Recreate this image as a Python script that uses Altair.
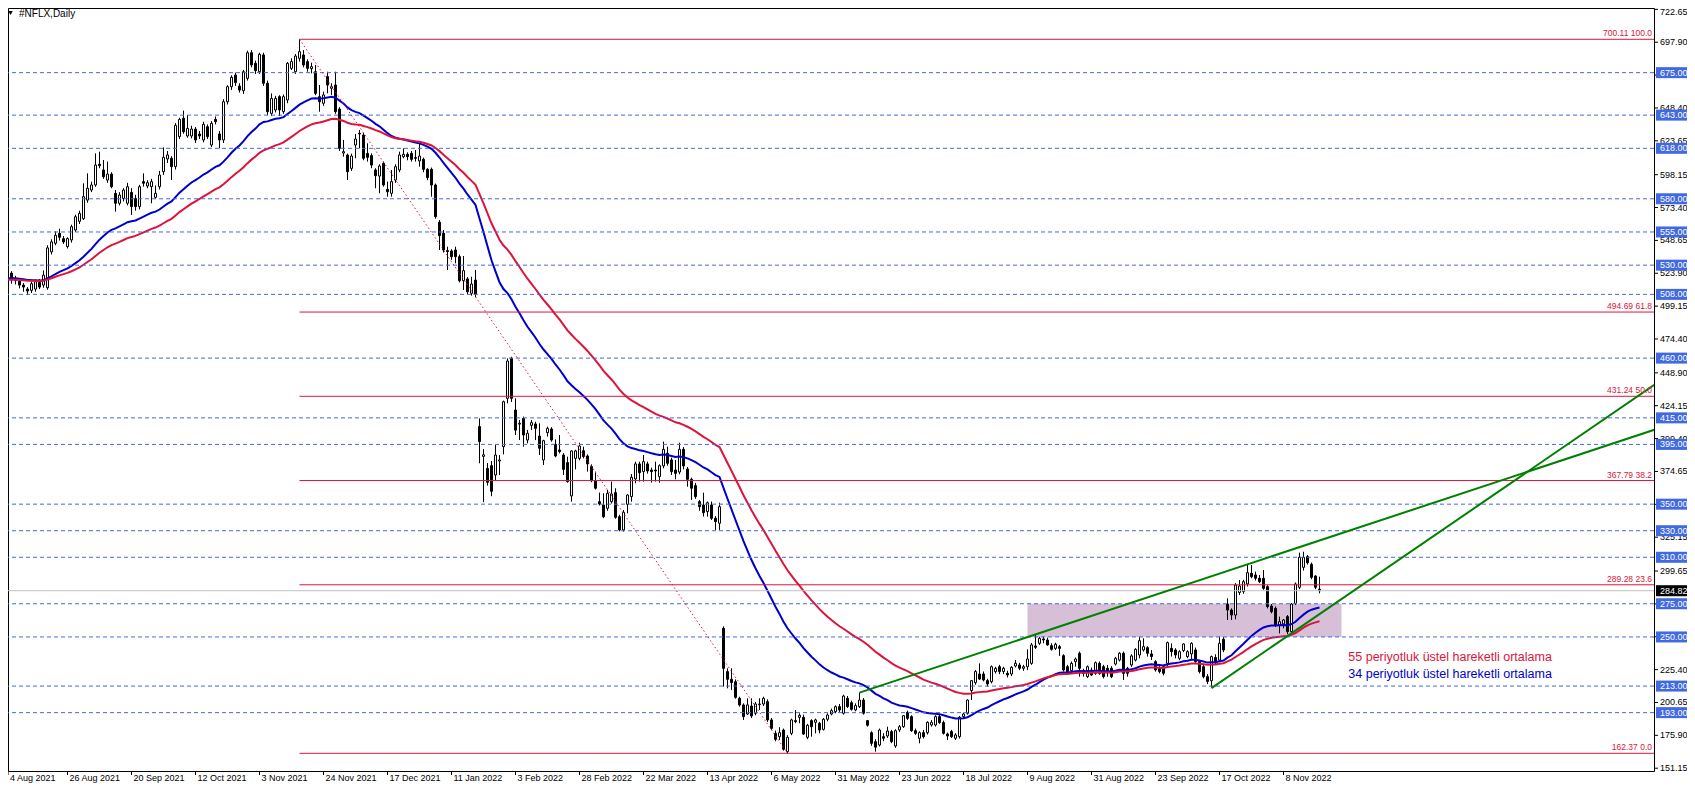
import altair as alt
import pandas as pd

# ---------------- data ----------------
opens = [
    511.5, 519.0, 524.0, 520.0, 518.0, 515.0, 512.0, 511.0, 512.0, 517.0,
    515.0, 513.0, 540.0, 546.5, 554.0, 550.0, 544.0, 549.0, 556.5, 563.0,
    565.0, 579.0, 586.6, 590.4, 606.0, 601.7, 594.1, 598.6, 584.1, 576.6,
    580.3, 576.6, 584.8, 580.3, 574.1, 592.9, 589.6, 589.1, 581.1, 589.1,
    600.4, 610.0, 610.5, 604.2, 626.8, 640.6, 627.3, 627.3, 632.5, 628.8,
    624.3, 634.3, 620.5, 639.8, 628.8, 624.3, 653.1, 664.4, 673.2, 664.9,
    661.4, 670.7, 690.0, 682.0, 675.7, 688.3, 667.0, 644.3, 646.9, 656.9,
    645.6, 654.4, 678.2, 675.7, 685.8, 688.3, 683.3, 678.0, 675.7, 656.9,
    651.9, 672.0, 663.2, 665.7, 647.6, 614.5, 613.0, 602.9, 620.5, 629.3,
    628.0, 614.2, 612.5, 601.7, 597.1, 606.7, 587.1, 584.1, 594.1, 601.7,
    611.7, 613.5, 614.2, 611.0, 608.5, 609.7, 602.2, 602.2, 590.4, 562.3,
    554.0, 541.0, 540.7, 541.4, 536.4, 518.3, 519.6, 508.8, 518.8, 408.4,
    386.0, 376.9, 379.0, 372.0, 382.5, 393.3, 429.7, 459.8, 420.9, 410.3,
    414.6, 398.3, 409.4, 410.4, 401.3, 383.3, 403.9, 406.6, 395.1, 390.8,
    387.0, 381.3, 356.2, 384.5, 384.5, 390.3, 386.3, 378.3, 367.7, 351.9,
    349.4, 346.9, 351.9, 358.7, 340.6, 330.6, 349.9, 355.7, 369.0, 380.3,
    374.5, 380.3, 375.7, 375.7, 370.7, 378.8, 388.3, 383.3, 375.7, 374.2,
    391.3, 376.5, 368.7, 364.0, 351.9, 349.4, 344.4, 349.4, 339.4, 335.6,
    256.5, 223.9, 218.1, 216.3, 203.8, 198.8, 192.0, 198.0, 192.5, 199.0,
    199.5, 201.3, 187.5, 177.4, 174.9, 179.9, 163.6, 177.4, 187.0, 189.5,
    189.5, 174.4, 187.0, 185.7, 185.0, 180.4, 188.0, 192.0, 193.7, 197.5,
    192.5, 203.8, 200.5, 195.0, 197.5, 202.5, 187.0, 177.9, 171.1, 168.6,
    174.9, 175.4, 178.7, 167.9, 180.0, 182.4, 193.2, 190.0, 179.4, 173.7,
    177.9, 177.9, 183.7, 183.7, 190.0, 185.5, 176.9, 178.7, 173.7, 174.9,
    190.0, 192.5, 209.6, 215.6, 222.1, 222.1, 217.1, 216.3, 223.9, 227.6,
    223.9, 222.6, 222.1, 228.1, 228.9, 226.4, 227.6, 230.1, 243.2, 245.2,
    248.5, 247.7, 243.4, 241.4, 242.7, 235.9, 227.6, 224.6, 231.4, 237.7,
    224.6, 220.1, 225.1, 222.6, 230.1, 227.6, 226.4, 226.4, 229.6, 232.6,
    237.7, 226.4, 228.9, 232.6, 236.4, 240.2, 241.9, 237.2, 231.4, 226.4,
    227.6, 230.1, 241.4, 240.2, 233.9, 239.7, 235.2, 237.2, 240.2, 231.4,
    227.6, 220.1, 217.0, 234.5, 232.6, 248.2, 274.8, 270.3, 266.5, 283.5,
    284.1, 289.9, 297.9, 296.7, 294.2, 294.2, 287.9, 273.3, 271.6, 259.0,
    259.8, 265.3, 254.0, 275.3, 287.4, 302.4, 310.5, 304.7, 295.9, 285.9,
]
highs = [
    520.5, 526.0, 525.5, 522.0, 520.0, 516.5, 513.5, 517.5, 519.0, 519.5,
    526.0, 545.0, 549.5, 555.5, 557.5, 552.0, 551.0, 560.5, 568.0, 571.0,
    591.6, 599.2, 592.9, 614.2, 615.5, 609.2, 608.0, 600.0, 586.6, 585.0,
    588.0, 592.0, 588.0, 583.0, 590.5, 599.2, 594.0, 595.0, 590.0, 601.0,
    618.7, 616.0, 612.0, 637.0, 641.0, 646.4, 643.1, 635.0, 634.0, 631.0,
    638.0, 636.0, 638.5, 642.0, 631.0, 655.0, 665.5, 673.0, 675.0, 667.0,
    677.0, 691.5, 692.0, 684.0, 690.0, 690.0, 669.0, 659.4, 657.5, 658.0,
    658.5, 683.0, 685.8, 689.0, 700.11, 692.0, 685.0, 682.5, 680.8, 665.7,
    660.7, 675.7, 667.0, 675.7, 649.0, 624.3, 614.0, 614.0, 628.8, 631.8,
    629.5, 621.8, 614.2, 603.0, 606.0, 608.0, 592.9, 601.7, 606.0, 615.5,
    618.0, 615.0, 616.0, 616.7, 621.8, 611.0, 603.0, 603.5, 591.5, 564.0,
    556.5, 543.9, 542.0, 543.9, 538.0, 536.9, 521.0, 521.3, 526.4, 414.6,
    391.5, 381.0, 382.5, 394.5, 387.0, 428.0, 459.8, 461.0, 429.7, 413.4,
    416.0, 405.9, 413.4, 412.1, 410.9, 398.5, 408.4, 408.0, 398.8, 402.1,
    388.5, 385.8, 390.5, 391.0, 396.3, 393.3, 387.5, 380.0, 374.5, 358.7,
    358.2, 360.7, 367.0, 362.0, 342.0, 345.6, 357.5, 372.7, 382.0, 382.0,
    387.0, 382.0, 377.5, 382.0, 380.0, 397.1, 393.3, 385.0, 383.3, 396.3,
    393.0, 378.0, 370.0, 366.0, 353.1, 358.7, 352.0, 352.0, 341.0, 351.1,
    258.0, 226.4, 226.4, 218.0, 205.0, 200.0, 203.8, 203.8, 201.0, 203.8,
    205.0, 203.0, 189.0, 179.5, 182.0, 181.0, 176.0, 188.5, 195.0, 192.5,
    191.5, 184.5, 188.0, 188.5, 186.0, 189.0, 192.5, 196.0, 198.5, 199.5,
    206.5, 205.5, 202.0, 200.0, 208.1, 204.0, 187.5, 179.0, 173.0, 181.0,
    177.5, 182.4, 180.0, 180.5, 183.7, 191.2, 194.5, 191.0, 181.0, 179.0,
    180.0, 186.5, 187.5, 191.0, 192.0, 187.0, 178.0, 180.0, 177.5, 190.5,
    193.0, 203.0, 217.3, 225.0, 230.1, 224.0, 218.5, 228.5, 227.5, 229.0,
    227.5, 224.5, 228.0, 232.6, 230.5, 229.0, 240.7, 245.5, 251.5, 250.0,
    250.2, 249.5, 245.2, 245.7, 244.0, 237.0, 229.0, 231.5, 234.5, 239.0,
    226.0, 228.5, 227.0, 231.5, 231.5, 229.0, 228.9, 228.0, 235.0, 238.5,
    239.0, 227.5, 237.0, 241.5, 250.2, 249.0, 243.0, 240.2, 232.5, 228.0,
    229.0, 246.5, 245.2, 241.5, 240.0, 245.2, 240.0, 246.0, 242.0, 232.5,
    229.0, 222.0, 236.0, 237.0, 250.2, 250.0, 279.1, 271.5, 290.5, 292.9,
    293.0, 304.2, 304.2, 299.2, 296.7, 300.4, 289.0, 274.8, 273.0, 265.3,
    263.5, 266.5, 275.5, 291.0, 313.5, 314.2, 311.7, 306.0, 296.5, 295.4,
]
lows = [
    508.0, 516.3, 516.0, 515.5, 512.5, 510.0, 507.5, 509.0, 510.0, 512.0,
    513.0, 511.5, 538.0, 545.0, 548.5, 546.0, 542.5, 547.0, 555.0, 561.0,
    564.0, 577.0, 585.0, 589.0, 603.0, 595.0, 592.0, 587.9, 570.3, 575.0,
    578.0, 575.0, 567.8, 571.0, 572.0, 589.1, 588.0, 576.6, 580.0, 587.0,
    598.0, 607.0, 594.1, 602.0, 625.0, 629.0, 626.0, 625.5, 622.0, 625.0,
    622.5, 625.0, 619.0, 636.0, 618.0, 622.0, 651.0, 662.0, 665.0, 660.0,
    659.0, 669.0, 679.0, 674.0, 674.0, 665.0, 643.0, 642.3, 645.0, 642.3,
    644.0, 652.0, 677.0, 674.0, 683.3, 679.0, 675.7, 674.5, 658.0, 645.6,
    650.0, 659.4, 658.2, 644.0, 616.0, 611.7, 594.1, 601.0, 610.5, 618.0,
    609.0, 608.0, 603.0, 587.9, 584.1, 589.1, 581.6, 581.6, 592.0, 600.0,
    610.5, 609.0, 608.0, 608.0, 604.2, 600.0, 594.0, 581.6, 565.0, 541.4,
    539.5, 526.4, 534.0, 531.4, 517.0, 511.3, 508.0, 507.0, 506.0, 380.8,
    351.5, 364.0, 356.0, 368.0, 372.0, 387.5, 425.9, 427.0, 402.1, 398.3,
    393.3, 395.8, 405.9, 398.3, 387.0, 379.5, 400.9, 397.0, 385.3, 388.3,
    372.0, 366.2, 351.9, 376.2, 383.0, 384.5, 374.5, 366.5, 361.0, 349.0,
    339.5, 345.0, 350.5, 339.0, 329.5, 329.3, 343.1, 351.9, 365.7, 367.0,
    367.0, 373.0, 366.2, 367.0, 366.2, 377.0, 379.0, 372.0, 368.7, 372.5,
    376.2, 363.2, 353.1, 354.0, 345.1, 340.6, 340.6, 338.1, 330.6, 330.6,
    212.6, 211.3, 210.1, 203.5, 197.5, 187.5, 191.2, 189.0, 191.0, 195.0,
    198.0, 186.0, 180.0, 171.5, 172.4, 164.4, 162.37, 176.0, 185.0, 185.0,
    176.2, 173.0, 174.9, 177.4, 177.4, 179.5, 186.5, 191.0, 192.5, 193.5,
    191.5, 196.5, 194.5, 194.0, 196.5, 191.5, 182.5, 168.0, 163.6, 167.5,
    171.5, 174.0, 170.0, 166.5, 178.5, 181.5, 187.5, 178.5, 176.2, 169.9,
    173.5, 176.5, 182.5, 182.5, 184.5, 176.5, 172.4, 174.0, 172.4, 173.5,
    189.0, 191.5, 202.5, 214.0, 217.6, 216.5, 212.6, 215.0, 222.5, 222.0,
    222.0, 219.5, 220.5, 227.0, 225.0, 224.5, 225.0, 229.0, 241.0, 244.0,
    245.2, 243.5, 239.7, 240.2, 235.7, 224.0, 222.0, 223.5, 227.6, 220.1,
    220.1, 219.0, 220.5, 221.5, 221.5, 218.8, 220.1, 219.0, 228.5, 231.5,
    217.6, 220.1, 227.5, 231.5, 233.9, 239.0, 235.2, 232.6, 223.9, 222.6,
    221.0, 227.6, 235.2, 233.9, 232.5, 238.5, 234.0, 232.6, 230.5, 222.5,
    218.8, 214.5, 212.0, 229.0, 231.0, 238.5, 262.8, 262.8, 263.3, 281.5,
    282.5, 288.0, 294.2, 292.5, 290.5, 285.5, 271.5, 267.8, 257.5, 252.7,
    256.5, 252.0, 253.0, 274.0, 286.0, 300.0, 304.5, 293.5, 286.0, 282.9,
]
closes = [
    518.5, 524.0, 519.0, 518.5, 515.0, 513.5, 510.5, 516.0, 517.5, 513.5,
    522.5, 543.0, 547.5, 552.5, 551.0, 547.5, 550.0, 559.0, 566.5, 569.0,
    581.6, 587.9, 590.4, 605.4, 605.0, 596.6, 598.6, 589.1, 576.6, 582.8,
    586.6, 589.1, 574.1, 574.1, 589.1, 591.7, 592.1, 592.9, 584.1, 597.9,
    611.2, 613.0, 604.2, 635.3, 639.8, 630.5, 633.0, 632.5, 624.3, 627.3,
    636.1, 626.8, 636.8, 638.1, 624.3, 653.1, 664.4, 671.5, 667.5, 661.9,
    675.7, 690.0, 680.8, 676.5, 688.8, 667.0, 645.6, 655.6, 655.6, 646.9,
    656.9, 682.0, 683.3, 687.5, 690.8, 680.8, 678.2, 679.5, 659.4, 653.1,
    658.2, 665.7, 664.4, 645.6, 618.0, 615.5, 600.4, 612.2, 625.0, 628.8,
    610.5, 611.2, 605.4, 597.4, 604.7, 590.4, 585.3, 592.9, 604.2, 613.0,
    613.5, 611.7, 609.7, 610.5, 612.2, 602.2, 595.9, 590.4, 566.5, 552.2,
    541.4, 540.2, 536.4, 536.4, 518.3, 525.9, 510.0, 515.8, 508.3, 397.1,
    387.2, 366.5, 359.7, 387.0, 383.3, 427.2, 457.8, 429.7, 405.8, 410.9,
    402.1, 403.4, 411.4, 407.1, 392.1, 397.8, 407.1, 398.3, 386.3, 389.6,
    376.2, 367.0, 390.1, 390.1, 393.8, 385.8, 380.3, 367.7, 362.0, 350.1,
    340.6, 358.2, 357.7, 340.1, 330.6, 343.9, 356.9, 370.2, 380.3, 373.7,
    382.0, 375.0, 374.5, 375.0, 379.0, 391.3, 380.8, 374.5, 373.2, 391.3,
    378.8, 368.7, 362.0, 355.7, 348.1, 343.6, 351.1, 339.4, 336.8, 348.1,
    226.4, 218.1, 215.6, 204.5, 198.8, 190.0, 198.8, 190.5, 199.5, 199.5,
    203.8, 187.5, 181.2, 172.9, 177.9, 165.4, 174.4, 187.5, 186.2, 191.0,
    176.9, 183.5, 182.4, 187.5, 179.9, 188.0, 191.2, 194.5, 197.5, 195.0,
    205.5, 197.5, 195.5, 198.3, 202.5, 192.5, 183.5, 169.9, 167.0, 179.9,
    173.7, 179.2, 171.1, 179.4, 182.4, 190.7, 188.7, 179.4, 177.4, 177.9,
    174.9, 185.7, 185.7, 190.0, 185.5, 177.4, 175.4, 174.9, 176.2, 189.5,
    192.0, 202.5, 217.1, 223.9, 218.3, 217.6, 214.6, 227.6, 226.4, 223.9,
    226.4, 221.4, 227.1, 230.1, 226.4, 227.6, 233.4, 244.0, 242.2, 249.0,
    247.7, 244.0, 240.7, 244.5, 241.4, 225.1, 223.9, 230.1, 233.4, 226.4,
    222.6, 227.6, 221.4, 230.6, 222.6, 220.1, 223.9, 220.1, 233.9, 237.7,
    222.6, 222.6, 235.7, 240.7, 247.2, 242.7, 237.7, 235.2, 225.1, 223.9,
    222.6, 245.7, 238.9, 236.4, 238.9, 244.7, 238.9, 245.2, 231.4, 223.9,
    220.1, 216.5, 235.2, 230.5, 245.2, 240.2, 270.3, 266.5, 289.1, 288.4,
    291.6, 298.4, 295.4, 294.2, 291.6, 286.6, 272.8, 269.0, 259.0, 261.5,
    262.8, 254.0, 274.8, 289.9, 310.0, 310.0, 305.9, 294.9, 287.4, 284.82,
]

date_ticks = [0, 16, 32, 48, 64, 80, 96, 112, 128, 144, 160, 176, 192, 208,
              224, 240, 256, 272, 288, 304, 320]
date_labels = ["4 Aug 2021", "26 Aug 2021", "20 Sep 2021", "12 Oct 2021",
               "3 Nov 2021", "24 Nov 2021", "17 Dec 2021", "11 Jan 2022",
               "3 Feb 2022", "28 Feb 2022", "22 Mar 2022", "13 Apr 2022",
               "6 May 2022", "31 May 2022", "23 Jun 2022", "18 Jul 2022",
               "9 Aug 2022", "31 Aug 2022", "23 Sep 2022", "17 Oct 2022",
               "8 Nov 2022"]
price_ticks = [722.65, 697.90, 673.15, 648.40, 623.65, 598.15, 573.40, 548.65,
               523.90, 499.15, 474.40, 448.90, 424.15, 399.40, 374.65, 349.90,
               325.15, 299.65, 274.90, 250.15, 225.40, 200.65, 175.90, 151.15]
h_levels = [675, 643, 618, 580, 555, 530, 508, 460, 415, 395, 350, 330, 310,
            275, 250, 213, 193]
fib_levels = [700.11, 494.69, 431.24, 367.79, 289.28, 162.37]
fib_pcts = ["100.0", "61.8", "50.0", "38.2", "23.6", "0.0"]
fib_start = 74
swing_idx = [74, 196]
swing_price = [700.11, 162.37]
bid_price = 284.82
zone_idx = [256.0, 334.5]
zone_price = [250.0, 275.0]
upper_tl_idx = [214, 412.7]
upper_tl_price = [208.1, 406.0]
lower_tl_idx = [302, 412.7]
lower_tl_price = [211.5, 439.8]
ema_fast_seed = 520.1
ema_slow_seed = 518.8
legend_idx = [336.2, 336.2]
legend_price = [234.8, 222.1]
legend_texts = ["55 periyotluk üstel hareketli ortalama",
                "34 periyotluk üstel hareketli ortalama"]
title_text = "#NFLX,Daily"

# ---------------- derived tables ----------------
n = len(closes)
idx = list(range(n))


def ema(vals, period, seed):
    k = 2.0 / (period + 1)
    out, e = [], seed
    for v in vals:
        e = e + k * (v - e)
        out.append(e)
    return out


W, H = 1646, 763
XD = [1.125, 412.625]
YD = [149.04, 723.68]

candles = pd.DataFrame({"i": idx, "o": opens, "h": highs, "l": lows, "c": closes})
ema34 = pd.DataFrame({"i": idx, "v": ema(closes, 34, ema_fast_seed)})
ema55 = pd.DataFrame({"i": idx, "v": ema(closes, 55, ema_slow_seed)})
zone_df = pd.DataFrame({"x0": [zone_idx[0]], "x1": [zone_idx[1]],
                        "y0": [zone_price[0]], "y1": [zone_price[1]]})
hl_df = pd.DataFrame({"level": h_levels,
                      "txt": ["%.2f" % v for v in h_levels]})
fib_df = pd.DataFrame({"level": fib_levels, "start": [fib_start] * len(fib_levels),
                       "txt": ["%.2f %s" % (v, p) for v, p in zip(fib_levels, fib_pcts)]})
bid_df = pd.DataFrame({"level": [bid_price], "txt": ["%.2f" % bid_price]})
swing_df = pd.DataFrame({"i": swing_idx, "p": swing_price})
tl_df = pd.DataFrame({"i": upper_tl_idx + lower_tl_idx,
                      "p": upper_tl_price + lower_tl_price,
                      "line": ["up", "up", "lo", "lo"]})
leg_df = pd.DataFrame({"i": legend_idx, "p": legend_price, "t": legend_texts,
                       "col": ["#dc143c", "#0000cd"]})
title_df = pd.DataFrame({"t": [title_text]})
pt_df = pd.DataFrame({"p": price_ticks, "txt": ["%.2f" % v for v in price_ticks]})
dt_df = pd.DataFrame({"i": [max(v, XD[0]) for v in date_ticks], "txt": date_labels})

# ---------------- chart ----------------
FONT = "Liberation Sans"
BLUE = "#4169e1"
CRIMSON = "#dc143c"
EMA_BLUE = "#0000cd"
GREEN = "#008000"

xs = alt.Scale(domain=XD, nice=False, zero=False)
ys = alt.Scale(domain=YD, nice=False, zero=False)


def X(f):
    return alt.X(f, scale=xs, axis=None)


def Y(f):
    return alt.Y(f, scale=ys, axis=None)


zone = alt.Chart(zone_df).mark_rect(color="#d8bfd8").encode(
    x=X("x0:Q"), x2="x1:Q", y=Y("y0:Q"), y2="y1:Q")

wicks = alt.Chart(candles).mark_rule(color="black", strokeWidth=1, clip=True).encode(
    x=X("i:Q"), y=Y("l:Q"), y2="h:Q")

bodies = alt.Chart(candles).transform_calculate(
    xa="datum.i - 0.25", xb="datum.i + 0.25"
).mark_rect(stroke="black", strokeWidth=1, clip=True).encode(
    x=X("xa:Q"), x2="xb:Q", y=Y("o:Q"), y2="c:Q",
    fill=alt.condition("datum.c >= datum.o", alt.value("white"), alt.value("black")))

hlines = alt.Chart(hl_df).mark_rule(color=BLUE, strokeWidth=1, strokeDash=[4, 3]).encode(
    y=Y("level:Q"))

bidline = alt.Chart(bid_df).mark_rule(color="#c0c0c0", strokeWidth=1).encode(
    y=Y("level:Q"))

fibs = alt.Chart(fib_df).mark_rule(color=CRIMSON, strokeWidth=1).encode(
    x=X("start:Q"), x2=alt.value(W), y=Y("level:Q"))

swing = alt.Chart(swing_df).mark_line(color=CRIMSON, strokeWidth=1, strokeDash=[1.5, 2.5]).encode(
    x=X("i:Q"), y=Y("p:Q"))

e34 = alt.Chart(ema34).mark_line(color=EMA_BLUE, strokeWidth=2, clip=True).encode(
    x=X("i:Q"), y=Y("v:Q"))
e55 = alt.Chart(ema55).mark_line(color=CRIMSON, strokeWidth=2, clip=True).encode(
    x=X("i:Q"), y=Y("v:Q"))

tls = alt.Chart(tl_df).mark_line(color=GREEN, strokeWidth=2, clip=True).encode(
    x=X("i:Q"), y=Y("p:Q"), detail="line:N")

fib_txt = alt.Chart(fib_df).mark_text(align="right", baseline="bottom", dy=-1,
                                      fontSize=8.5, font=FONT, color=CRIMSON).encode(
    x=alt.value(W - 2), y=Y("level:Q"), text="txt:N")

leg_txt = alt.Chart(leg_df).mark_text(align="left", baseline="middle", fontSize=12.5,
                                      font=FONT).encode(
    x=X("i:Q"), y=Y("p:Q"), text="t:N", color=alt.Color("col:N", scale=None))

title = alt.Chart(title_df).mark_text(align="left", baseline="top", fontSize=10,
                                      font=FONT, color="black").encode(
    x=alt.value(11), y=alt.value(1), text="t:N")
tri = alt.Chart(title_df).mark_point(shape="triangle-down", filled=True, color="black",
                                     size=20, opacity=1).encode(
    x=alt.value(2.5), y=alt.value(5))

# price axis (right) drawn as marks
p_ticks = alt.Chart(pt_df).mark_rule(color="black", strokeWidth=1).encode(
    x=alt.value(W), x2=alt.value(W + 4), y=Y("p:Q"))
p_labels = alt.Chart(pt_df).transform_filter("datum.p < 720").mark_text(
    align="left", baseline="middle", fontSize=9, font=FONT, color="black").encode(
    x=alt.value(W + 6), y=Y("p:Q"), text="txt:N")
p_label_top = alt.Chart(pt_df).transform_filter("datum.p >= 720").mark_text(
    align="left", baseline="top", fontSize=9, font=FONT, color="black").encode(
    x=alt.value(W + 6), y=alt.value(0), text="txt:N")
# date axis (bottom) drawn as marks
d_ticks = alt.Chart(dt_df).mark_rule(color="black", strokeWidth=1).encode(
    x=X("i:Q"), y=alt.value(H), y2=alt.value(H + 4))
d_labels = alt.Chart(dt_df).mark_text(align="left", baseline="top", dx=2, fontSize=9,
                                      font=FONT, color="black").encode(
    x=X("i:Q"), y=alt.value(H + 3), text="txt:N")

boxes = alt.Chart(hl_df).mark_rule(color=BLUE, strokeWidth=11).encode(
    x=alt.value(W + 2), x2=alt.value(W + 33), y=Y("level:Q"))
box_txt = alt.Chart(hl_df).mark_text(align="left", baseline="middle", fontSize=9,
                                     font=FONT, color="white").encode(
    x=alt.value(W + 6), y=Y("level:Q"), text="txt:N")
bid_box = alt.Chart(bid_df).mark_rule(color="black", strokeWidth=11).encode(
    x=alt.value(W + 2), x2=alt.value(W + 33), y=Y("level:Q"))
bid_txt = alt.Chart(bid_df).mark_text(align="left", baseline="middle", fontSize=9,
                                      font=FONT, color="white").encode(
    x=alt.value(W + 6), y=Y("level:Q"), text="txt:N")

chart = alt.layer(
    zone, wicks, bodies, e34, e55, hlines, bidline, fibs, swing, tls,
    fib_txt, leg_txt, title, tri, p_ticks, p_labels, p_label_top, d_ticks, d_labels,
    boxes, box_txt, bid_box, bid_txt
).properties(
    width=W, height=H,
    autosize=alt.AutoSizeParams(type="none"),
    padding={"left": 0, "top": 0, "right": 33, "bottom": 13},
    background="white",
).configure_view(stroke="black", strokeWidth=1)

chart.save("out.html", embed_options={"renderer": "svg", "actions": False})
